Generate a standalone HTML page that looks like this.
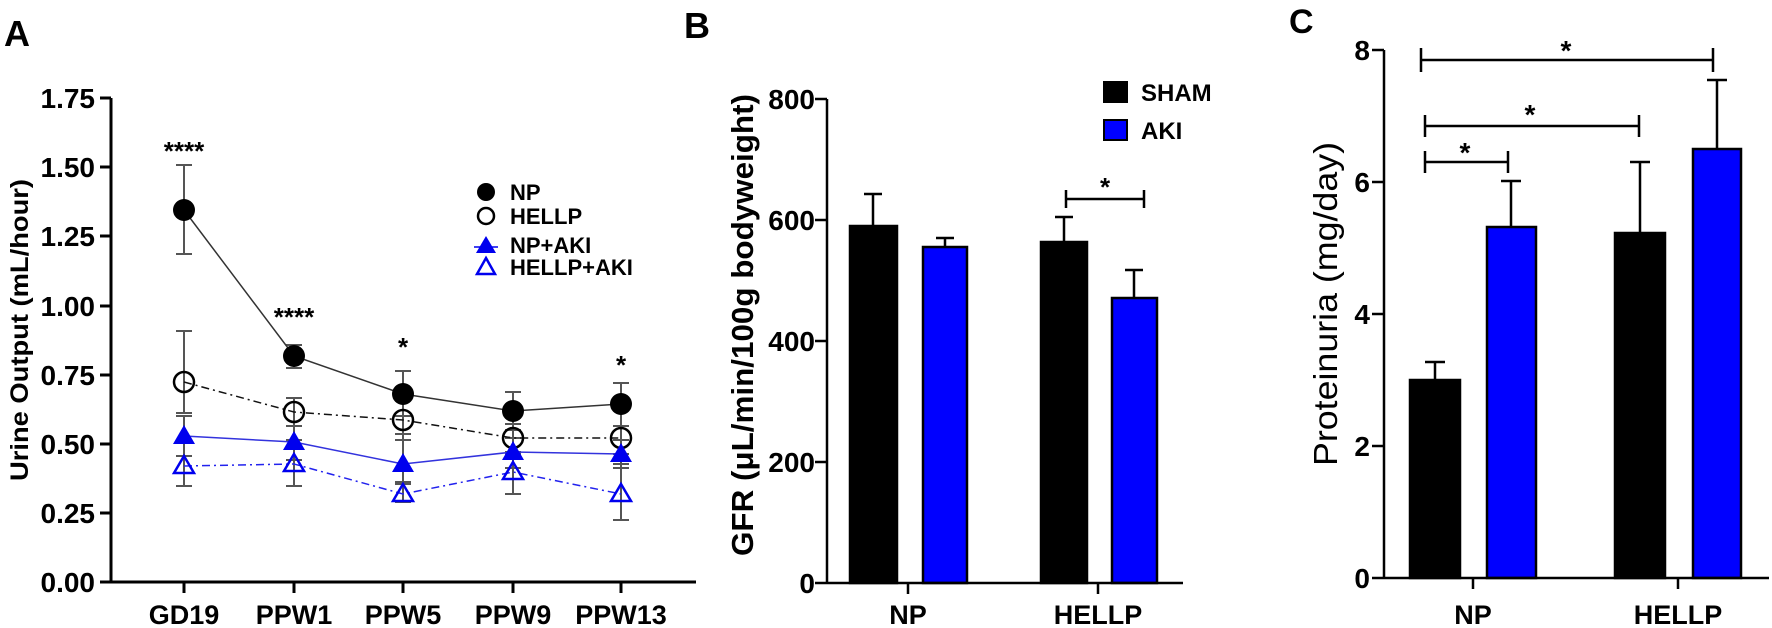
<!DOCTYPE html>
<html><head><meta charset="utf-8"><style>
html,body{margin:0;padding:0;background:#fff;}
svg{display:block;font-family:"Liberation Sans",Arial,sans-serif;}
</style></head><body>
<svg width="1772" height="628" viewBox="0 0 1772 628" xmlns="http://www.w3.org/2000/svg">
<!-- Panel A -->
<text x="4" y="46" font-size="36" font-weight="bold">A</text>
<g stroke="#000" stroke-width="3" fill="none">
<line x1="111" y1="98" x2="111" y2="583"/>
<line x1="111" y1="582" x2="696" y2="582"/>
<line x1="100" y1="98" x2="111" y2="98"/>
<line x1="100" y1="167" x2="111" y2="167"/>
<line x1="100" y1="236" x2="111" y2="236"/>
<line x1="100" y1="306" x2="111" y2="306"/>
<line x1="100" y1="375" x2="111" y2="375"/>
<line x1="100" y1="444" x2="111" y2="444"/>
<line x1="100" y1="513" x2="111" y2="513"/>
<line x1="100" y1="582" x2="111" y2="582"/>
<line x1="184" y1="582" x2="184" y2="593"/>
<line x1="294" y1="582" x2="294" y2="593"/>
<line x1="403" y1="582" x2="403" y2="593"/>
<line x1="513" y1="582" x2="513" y2="593"/>
<line x1="621" y1="582" x2="621" y2="593"/>
</g>
<g font-size="28" font-weight="bold" text-anchor="end">
<text x="95" y="108">1.75</text><text x="95" y="177">1.50</text><text x="95" y="246">1.25</text>
<text x="95" y="316">1.00</text><text x="95" y="385">0.75</text><text x="95" y="454">0.50</text>
<text x="95" y="523">0.25</text><text x="95" y="592">0.00</text>
</g>
<g font-size="27" font-weight="bold" text-anchor="middle">
<text x="184" y="624">GD19</text><text x="294" y="624">PPW1</text><text x="403" y="624">PPW5</text>
<text x="513" y="624">PPW9</text><text x="621" y="624">PPW13</text>
</g>
<text transform="translate(28,330) rotate(-90)" font-size="25" font-weight="bold" text-anchor="middle" textLength="302" lengthAdjust="spacingAndGlyphs">Urine Output  (mL/hour)</text>
<!-- error bars -->
<g stroke="#555" stroke-width="2" fill="none">
<path d="M184 165V254M176 165h16M176 254h16"/>
<path d="M294 345V368M286 345h16M286 368h16"/>
<path d="M403 371V416M395 371h16M395 416h16"/>
<path d="M513 392V430M505 392h16M505 430h16"/>
<path d="M621 383V426M613 383h16M613 426h16"/>
<path d="M184 331V413M176 331h16M176 413h16"/>
<path d="M294 398V426M286 398h16M286 426h16"/>
<path d="M403 400V440M395 400h16M395 440h16"/>
<path d="M513 424V454M505 424h16M505 454h16"/>
<path d="M621 426V454M613 426h16M613 454h16"/>
<path d="M184 416V456M176 416h16M176 456h16"/>
<path d="M294 426V460M286 426h16M286 460h16"/>
<path d="M403 434V484M395 434h16M395 484h16"/>
<path d="M513 438V468M505 438h16M505 468h16"/>
<path d="M621 440V468M613 440h16M613 468h16"/>
<path d="M184 456V486M176 456h16M176 486h16"/>
<path d="M294 440V486M286 440h16M286 486h16"/>
<path d="M403 482V502M395 482h16M395 502h16"/>
<path d="M513 452V494M505 452h16M505 494h16"/>
<path d="M621 464V520M613 464h16M613 520h16"/>
</g>
<!-- lines -->
<polyline points="184,210 294,356 403,394 513,411 621,404" fill="none" stroke="#333" stroke-width="1.5"/>
<polyline points="184,382 294,412 403,420 513,438 621,438" fill="none" stroke="#111" stroke-width="1.5" stroke-dasharray="8,4,2,4"/>
<polyline points="184,436 294,442 403,464 513,452 621,454" fill="none" stroke="#3333dd" stroke-width="1.5"/>
<polyline points="184,466 294,464 403,494 513,472 621,494" fill="none" stroke="#2222ee" stroke-width="1.5" stroke-dasharray="8,4,2,4"/>
<!-- markers -->
<g fill="#000"><circle cx="184" cy="210" r="11"/><circle cx="294" cy="356" r="11"/><circle cx="403" cy="394" r="11"/><circle cx="513" cy="411" r="11"/><circle cx="621" cy="404" r="11"/></g>
<g fill="none" stroke="#000" stroke-width="2.5"><circle cx="184" cy="382" r="10"/><circle cx="294" cy="412" r="10"/><circle cx="403" cy="420" r="10"/><circle cx="513" cy="438" r="10"/><circle cx="621" cy="438" r="10"/></g>
<g fill="#0000ee"><path d="M184 425l11 19h-22z"/><path d="M294 431l11 19h-22z"/><path d="M403 453l11 19h-22z"/><path d="M513 441l11 19h-22z"/><path d="M621 443l11 19h-22z"/></g>
<g fill="none" stroke="#0000ee" stroke-width="2.5"><path d="M184 456l10 17h-20z"/><path d="M294 454l10 17h-20z"/><path d="M403 484l10 17h-20z"/><path d="M513 462l10 17h-20z"/><path d="M621 484l10 17h-20z"/></g>
<g font-size="26" font-weight="bold" text-anchor="middle">
<text x="184" y="160">****</text><text x="294" y="326">****</text><text x="403" y="356">*</text><text x="621" y="374">*</text>
</g>
<!-- legend A -->
<circle cx="486" cy="192" r="9" fill="#000"/>
<circle cx="486" cy="216" r="8" fill="none" stroke="#000" stroke-width="2.5"/>
<path d="M486 236l10 17h-20z" fill="#0000ee"/><line x1="474" y1="247" x2="498" y2="247" stroke="#0000ee" stroke-width="1.5"/>
<path d="M486 258l9 16h-18z" fill="none" stroke="#0000ee" stroke-width="2.5"/>
<g font-size="22" font-weight="bold">
<text x="510" y="200">NP</text><text x="510" y="224">HELLP</text><text x="510" y="253">NP+AKI</text><text x="510" y="275">HELLP+AKI</text>
</g>

<!-- Panel B -->
<text x="684" y="38" font-size="36" font-weight="bold">B</text>
<g stroke="#000" stroke-width="2.5">
<rect x="850" y="226" width="47" height="357" fill="#000"/>
<rect x="923" y="247" width="44" height="336" fill="#0000ff"/>
<rect x="1041" y="242" width="46" height="341" fill="#000"/>
<rect x="1112" y="298" width="45" height="285" fill="#0000ff"/>
</g>
<g stroke="#000" stroke-width="2.5" fill="none">
<path d="M873 226V194M864 194h18"/>
<path d="M945 247V238M936 238h18"/>
<path d="M1064 242V217M1055 217h18"/>
<path d="M1134 298V270M1125 270h18"/>
<path d="M1066 199H1144M1066 190v18M1144 190v18"/>
<line x1="827" y1="99" x2="827" y2="584"/>
<line x1="827" y1="583" x2="1183" y2="583"/>
<path d="M815 99h12M815 220h12M815 341h12M815 462h12M815 583h12"/>
<path d="M908 583v11M1098 583v11"/>
</g>
<text x="1105" y="196" font-size="26" font-weight="bold" text-anchor="middle">*</text>
<g font-size="28" font-weight="bold" text-anchor="end">
<text x="815" y="109">800</text><text x="815" y="230">600</text><text x="815" y="351">400</text><text x="815" y="472">200</text><text x="815" y="593">0</text>
</g>
<g font-size="27" font-weight="bold" text-anchor="middle"><text x="908" y="624">NP</text><text x="1098" y="624">HELLP</text></g>
<text transform="translate(753,325) rotate(-90)" font-size="31" font-weight="bold" text-anchor="middle" textLength="462" lengthAdjust="spacingAndGlyphs">GFR (μL/min/100g bodyweight)</text>
<rect x="1104" y="82" width="23" height="20" fill="#000" stroke="#000" stroke-width="2"/>
<rect x="1104" y="120" width="23" height="20" fill="#0000ff" stroke="#000" stroke-width="2"/>
<g font-size="24" font-weight="bold"><text x="1141" y="101">SHAM</text><text x="1141" y="139">AKI</text></g>

<!-- Panel C -->
<text x="1289" y="33" font-size="34" font-weight="bold">C</text>
<g stroke="#000" stroke-width="2.5">
<rect x="1410" y="380" width="50" height="198" fill="#000"/>
<rect x="1487" y="227" width="49" height="351" fill="#0000ff"/>
<rect x="1615" y="233" width="50" height="345" fill="#000"/>
<rect x="1693" y="149" width="48" height="429" fill="#0000ff"/>
</g>
<g stroke="#000" stroke-width="2.5" fill="none">
<path d="M1435 380V362M1425 362h20"/>
<path d="M1511 227V181M1501 181h20"/>
<path d="M1640 233V162M1630 162h20"/>
<path d="M1717 149V80M1707 80h20"/>
<path d="M1421 60H1713M1421 48v24M1713 48v24"/>
<path d="M1425 126H1639M1425 115v22M1639 115v22"/>
<path d="M1425 162H1508M1425 151v22M1508 151v22"/>
<line x1="1384" y1="50" x2="1384" y2="579"/>
<line x1="1384" y1="578" x2="1769" y2="578"/>
<path d="M1372 50h12M1372 182h12M1372 314h12M1372 446h12M1372 578h12"/>
<path d="M1473 578v11M1678 578v11"/>
</g>
<g font-size="28" font-weight="bold" text-anchor="middle">
<text x="1566" y="60">*</text><text x="1530" y="124">*</text><text x="1465" y="162">*</text>
</g>
<g font-size="28" font-weight="bold" text-anchor="end">
<text x="1370" y="60">8</text><text x="1370" y="192">6</text><text x="1370" y="324">4</text><text x="1370" y="456">2</text><text x="1370" y="588">0</text>
</g>
<g font-size="27" font-weight="bold" text-anchor="middle"><text x="1473" y="624">NP</text><text x="1678" y="624">HELLP</text></g>
<text transform="translate(1337,304) rotate(-90)" font-size="33" text-anchor="middle" textLength="324" lengthAdjust="spacingAndGlyphs">Proteinuria (mg/day)</text>
</svg>
</body></html>
